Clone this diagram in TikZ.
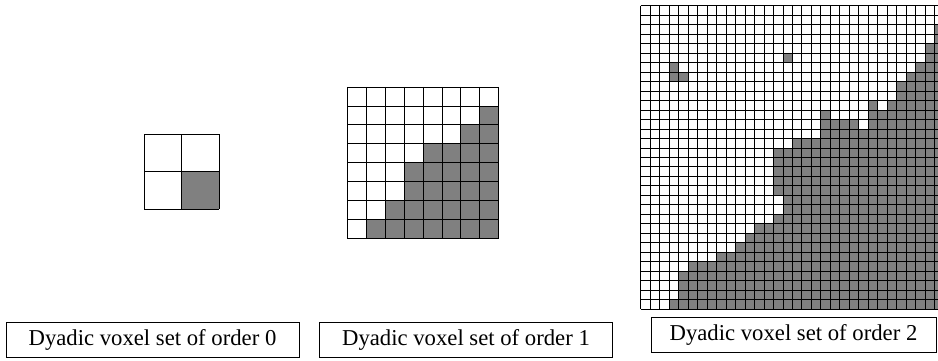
\documentclass[tikz,border=0pt]{standalone}
\usepackage{fontspec}
\setmainfont{Liberation Serif}
\definecolor{voxelgray}{gray}{0.5}
\tikzset{
  capbox/.style={draw, line width=0.8pt, minimum width=293pt, minimum height=35pt,
    inner sep=0pt, font=\fontsize{22.7}{26}\selectfont},
  voxel/.style={fill=voxelgray},
  gridline/.style={line width=0.8pt}
}
\begin{document}
\begin{tikzpicture}[x=1pt,y=-1pt]
    \useasboundingbox (0,0) rectangle (938,361);
    \clip (0,0) rectangle (938,361);

    % order 0
    \begin{scope}[xshift=144pt,yshift=-134pt,x=37.65pt,y=-37.65pt]
        \fill[voxel] (1,1) rectangle (2,2);
        \foreach \i in {0,...,2} {
            \draw[gridline] (\i,0) -- (\i,2);
            \draw[gridline] (0,\i) -- (2,\i);
        }
    \end{scope}

    % order 1
    \begin{scope}[xshift=347.3pt,yshift=-87pt,x=18.93pt,y=-18.93pt]
        \foreach \r/\a/\b in {1/7/7,2/6/7,3/4/7,4/3/7,5/3/7,6/2/7,7/1/7} {
            \fill[voxel] (\a,\r) rectangle (\b+1,\r+1);
        }
        \foreach \i in {0,...,8} {
            \draw[gridline] (\i,0) -- (\i,8);
            \draw[gridline] (0,\i) -- (8,\i);
        }
    \end{scope}

    % order 2
    \begin{scope}[xshift=640.7pt,yshift=-5.7pt,x=9.48pt,y=-9.48pt]
        \foreach \r/\a/\b in {2/31/31,3/31/31,4/30/31,5/15/15,5/30/31,6/3/3,6/29/31,
            7/3/4,7/28/31,8/27/31,9/27/31,10/24/24,10/26/31,11/19/19,11/24/31,
            12/19/22,12/24/31,13/19/31,14/16/31,15/14/31,16/14/31,17/14/31,18/14/31,
            19/14/31,20/15/31,21/15/31,22/14/31,23/12/31,24/11/31,25/10/31,26/8/31,
            27/5/31,28/4/31,29/4/31,30/4/31,31/3/31} {
            \fill[voxel] (\a,\r) rectangle (\b+1,\r+1);
        }
        \foreach \i in {0,...,32} {
            \draw[gridline] (\i,0) -- (\i,32);
            \draw[gridline] (0,\i) -- (32,\i);
        }
    \end{scope}

    \node[capbox] (cap0) at (152.5,339.5) {Dyadic voxel set of order 0};
    \node[capbox] (cap1) at (466,339.5) {Dyadic voxel set of order 1};
    \node[capbox,minimum width=285pt] (cap2) at (793.5,334.5) {Dyadic voxel set of order 2};
\end{tikzpicture}
\end{document}
